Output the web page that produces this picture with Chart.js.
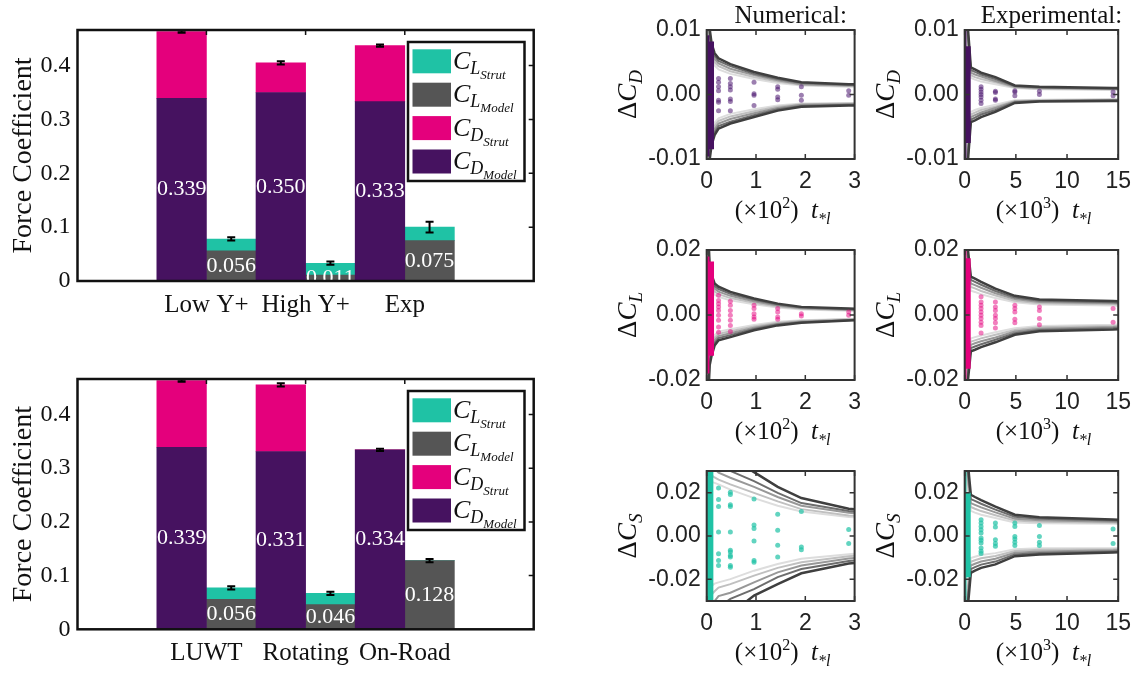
<!DOCTYPE html>
<html>
<head>
<meta charset="utf-8">
<script src="https://cdn.jsdelivr.net/npm/chart.js@4.4.1/dist/chart.umd.min.js"></script>
<style>
  body { margin: 0; background: #fff; width: 1140px; height: 673px; position: relative; overflow: hidden; }
  canvas { position: absolute; }
</style>
</head>
<body>
<canvas id="barTop" width="545" height="335" style="left:0;top:0"></canvas>
<canvas id="barBottom" width="545" height="328" style="left:0;top:345px"></canvas>
<canvas id="cdNum" width="270" height="225" style="left:600px;top:0"></canvas>
<canvas id="cdExp" width="270" height="225" style="left:870px;top:0"></canvas>
<canvas id="clNum" width="270" height="222" style="left:600px;top:225px"></canvas>
<canvas id="clExp" width="270" height="222" style="left:870px;top:225px"></canvas>
<canvas id="csNum" width="270" height="226" style="left:600px;top:447px"></canvas>
<canvas id="csExp" width="270" height="226" style="left:870px;top:447px"></canvas>
<script>
// ---- bar charts ----
const catsTop = ['Low Y+', 'High Y+', 'Exp'];
const cdModelTop = [0.339, 0.350, 0.333];
const cdStrutTop = [0.124, 0.055, 0.104];
const clModelTop = [0.056, 0.011, 0.075];
const clStrutTop = [0.022, 0.022, 0.025];
const cdErrTop = [0.002, 0.003, 0.002];
const clErrTop = [0.003, 0.003, 0.010];

const catsBottom = ['LUWT', 'Rotating', 'On-Road'];
const cdModelBottom = [0.339, 0.331, 0.334];
const cdStrutBottom = [0.124, 0.124, 0];
const clModelBottom = [0.056, 0.046, 0.128];
const clStrutBottom = [0.021, 0.021, 0];
const cdErrBottom = [0.002, 0.003, 0.002];
const clErrBottom = [0.003, 0.003, 0.003];

const barTicks = [0, 0.1, 0.2, 0.3, 0.4];
const legendSubs = ['L', 'L', 'D', 'D'];
const legendSubSubs = ['Strut', 'Model', 'Strut', 'Model'];

// ---- convergence panels ----
const panelTitles = ['Numerical:', 'Experimental:'];
const numX = [0.02, 0.06, 0.1, 0.16, 0.24, 0.48, 0.96, 1.44, 1.92, 2.88, 3.0];
const expX = [0.1, 0.32, 0.6, 1.0, 1.6, 3.0, 4.9, 7.3, 14.5, 15];
const numXTicks = [0, 1, 2, 3];
const expXTicks = [0, 5, 10, 15];

const cdNumUpper = [
  [0.022, 0.0102, 0.0079, 0.0064, 0.0056, 0.0047, 0.0035, 0.0026, 0.0019, 0.0016, 0.0016],
  [0.020, 0.0094, 0.0073, 0.0060, 0.0052, 0.0044, 0.0032, 0.0024, 0.0018, 0.0015, 0.0015],
  [0.018, 0.0086, 0.0067, 0.0055, 0.0048, 0.0040, 0.0030, 0.0022, 0.0016, 0.0014, 0.0014],
  [0.016, 0.0078, 0.0061, 0.0050, 0.0044, 0.0036, 0.0027, 0.0020, 0.0015, 0.0013, 0.0013],
  [0.014, 0.0070, 0.0055, 0.0045, 0.0039, 0.0032, 0.0024, 0.0018, 0.0014, 0.0012, 0.0012]
];
const cdNumLower = [
  [-0.022, -0.0101, -0.0078, -0.0063, -0.0053, -0.0045, -0.0035, -0.0025, -0.0019, -0.0017, -0.0017],
  [-0.020, -0.0093, -0.0072, -0.0059, -0.0049, -0.0042, -0.0032, -0.0023, -0.0018, -0.0016, -0.0016],
  [-0.018, -0.0085, -0.0066, -0.0054, -0.0045, -0.0038, -0.0029, -0.0021, -0.0016, -0.0015, -0.0015],
  [-0.016, -0.0077, -0.0060, -0.0049, -0.0041, -0.0034, -0.0026, -0.0019, -0.0015, -0.0014, -0.0014],
  [-0.014, -0.0069, -0.0054, -0.0044, -0.0037, -0.0030, -0.0023, -0.0017, -0.0014, -0.0013, -0.0013]
];
const cdNumBands = [[0, 0.06, -0.0096, 0.0092], [0, 0.15, -0.0085, 0.0082]];
const cdNumDots = [
  [0.24, [0.0025, 0.0019, 0.0012, 0.0006, -0.0009, -0.0012, -0.0025]],
  [0.48, [0.0025, 0.0017, 0.0012, 0.0007, -0.0007, -0.0011, -0.0025]],
  [0.96, [0.0019, 0.0001, -0.0001, -0.0017]],
  [1.44, [0.0012, 0.0008, -0.0004, -0.0008]],
  [1.92, [0.0012, -0.0001, -0.0009]],
  [2.88, [0.0006, -0.0001]]
];

const cdExpUpper = [
  [0.030, 0.0102, 0.0042, 0.0039, 0.0034, 0.0027, 0.0014, 0.0012, 0.0010, 0.0010],
  [0.027, 0.0094, 0.0038, 0.0035, 0.0031, 0.0024, 0.0013, 0.0011, 0.0009, 0.0009],
  [0.024, 0.0086, 0.0034, 0.0031, 0.0028, 0.0021, 0.0012, 0.0010, 0.0009, 0.0009],
  [0.021, 0.0078, 0.0030, 0.0027, 0.0024, 0.0019, 0.0011, 0.0009, 0.0008, 0.0008],
  [0.018, 0.0070, 0.0026, 0.0023, 0.0020, 0.0016, 0.0010, 0.0008, 0.0007, 0.0007]
];
const cdExpLower = [
  [-0.030, -0.0102, -0.0043, -0.0040, -0.0035, -0.0027, -0.0013, -0.0011, -0.0010, -0.0010],
  [-0.027, -0.0094, -0.0039, -0.0036, -0.0031, -0.0024, -0.0012, -0.0010, -0.0009, -0.0009],
  [-0.024, -0.0086, -0.0035, -0.0032, -0.0028, -0.0021, -0.0011, -0.0010, -0.0009, -0.0009],
  [-0.021, -0.0078, -0.0031, -0.0028, -0.0024, -0.0019, -0.0010, -0.0009, -0.0008, -0.0008],
  [-0.018, -0.0070, -0.0027, -0.0024, -0.0021, -0.0016, -0.0009, -0.0008, -0.0007, -0.0007]
];
const cdExpBands = [[0, 0.2, -0.01, 0.01], [0, 0.6, -0.0075, 0.0075]];
const cdExpDots = [
  [1.6, [0.0012, 0.0008, 0.0004, 0.0, -0.0004, -0.0009, -0.0014]],
  [3.0, [0.0005, 0.0003, -0.0007, -0.0009]],
  [4.9, [0.0006, 0.0004, -0.0002]],
  [7.3, [0.0005, 0.0]],
  [14.5, [0.0004, -0.0002]]
];

const clNumUpper = [
  [0.030, 0.0150, 0.0123, 0.0097, 0.0087, 0.0071, 0.0051, 0.0035, 0.0025, 0.0020, 0.0019],
  [0.027, 0.0136, 0.0112, 0.0089, 0.0080, 0.0065, 0.0047, 0.0032, 0.0023, 0.0018, 0.0017],
  [0.024, 0.0123, 0.0101, 0.0081, 0.0072, 0.0059, 0.0042, 0.0029, 0.0021, 0.0016, 0.0016],
  [0.021, 0.0110, 0.0090, 0.0072, 0.0064, 0.0052, 0.0038, 0.0026, 0.0019, 0.0015, 0.0014],
  [0.018, 0.0097, 0.0079, 0.0063, 0.0056, 0.0045, 0.0033, 0.0023, 0.0017, 0.0013, 0.0013]
];
const clNumLower = [
  [-0.030, -0.0155, -0.0125, -0.0094, -0.0078, -0.0068, -0.0047, -0.0032, -0.0024, -0.0017, -0.0016],
  [-0.027, -0.0140, -0.0114, -0.0086, -0.0071, -0.0062, -0.0043, -0.0029, -0.0022, -0.0016, -0.0015],
  [-0.024, -0.0126, -0.0102, -0.0078, -0.0065, -0.0056, -0.0039, -0.0027, -0.0020, -0.0015, -0.0014],
  [-0.021, -0.0112, -0.0091, -0.0070, -0.0058, -0.0050, -0.0035, -0.0024, -0.0018, -0.0013, -0.0013],
  [-0.018, -0.0098, -0.0080, -0.0062, -0.0051, -0.0044, -0.0031, -0.0021, -0.0016, -0.0012, -0.0012]
];
const clNumBands = [[0, 0.06, -0.018, 0.018], [0, 0.15, -0.0125, 0.0165]];
const clNumDots = [
  [0.24, [0.0061, 0.0045, 0.0035, 0.0025, 0.0014, -0.0001, -0.0016, -0.0037, -0.0053]],
  [0.48, [0.0042, 0.0030, 0.0014, -0.0001, -0.0016, -0.0032, -0.0051]],
  [0.96, [0.0030, 0.0020, 0.0004, -0.0006, -0.0013]],
  [1.44, [0.0020, 0.0009, -0.0006, -0.0013]],
  [1.92, [0.0004, -0.0003]],
  [2.88, [0.0009, -0.0001]]
];

const clExpUpper = [
  [0.050, 0.0200, 0.0118, 0.0112, 0.0102, 0.0081, 0.0059, 0.0048, 0.0043, 0.0042],
  [0.045, 0.0182, 0.0108, 0.0102, 0.0093, 0.0074, 0.0054, 0.0044, 0.0039, 0.0038],
  [0.040, 0.0164, 0.0097, 0.0092, 0.0084, 0.0067, 0.0049, 0.0040, 0.0036, 0.0035],
  [0.035, 0.0146, 0.0086, 0.0082, 0.0074, 0.0060, 0.0044, 0.0036, 0.0033, 0.0032],
  [0.030, 0.0128, 0.0075, 0.0071, 0.0064, 0.0052, 0.0039, 0.0032, 0.0029, 0.0028]
];
const clExpLower = [
  [-0.050, -0.0200, -0.0112, -0.0107, -0.0099, -0.0084, -0.0061, -0.0050, -0.0045, -0.0044],
  [-0.045, -0.0182, -0.0102, -0.0097, -0.0090, -0.0076, -0.0056, -0.0046, -0.0041, -0.0040],
  [-0.040, -0.0164, -0.0092, -0.0087, -0.0081, -0.0069, -0.0051, -0.0042, -0.0037, -0.0036],
  [-0.035, -0.0146, -0.0082, -0.0078, -0.0072, -0.0061, -0.0046, -0.0038, -0.0034, -0.0033],
  [-0.030, -0.0128, -0.0072, -0.0068, -0.0063, -0.0053, -0.0041, -0.0034, -0.0030, -0.0029]
];
const clExpBands = [[0, 0.2, -0.02, 0.02], [0, 0.6, -0.0165, 0.0175]];
const clExpDots = [
  [1.6, [0.0056, 0.0040, 0.0030, 0.0020, 0.0009, -0.0001, -0.0011, -0.0022, -0.0032, -0.0055]],
  [3.0, [0.0040, 0.0025, 0.0014, -0.0001, -0.0011, -0.0024, -0.0040]],
  [4.9, [0.0030, 0.0020, 0.0009, -0.0013, -0.0024]],
  [7.3, [0.0025, 0.0014, -0.0011, -0.0030]],
  [14.5, [0.0020, -0.0022]]
];

const csNumUpper = [
  [0.080, 0.065, 0.056, 0.048, 0.042, 0.036, 0.0295, 0.0227, 0.0175, 0.0126, 0.0124],
  [0.060, 0.050, 0.043, 0.038, 0.034, 0.030, 0.0253, 0.0199, 0.0152, 0.0115, 0.0113],
  [0.045, 0.038, 0.034, 0.031, 0.0292, 0.0269, 0.0227, 0.0180, 0.0140, 0.0107, 0.0105],
  [0.035, 0.030, 0.028, 0.027, 0.0260, 0.0238, 0.0199, 0.0160, 0.0124, 0.0095, 0.0093],
  [0.030, 0.027, 0.025, 0.0245, 0.0238, 0.0214, 0.0175, 0.0140, 0.0113, 0.0088, 0.0086]
];
const csNumLower = [
  [-0.080, -0.065, -0.056, -0.048, -0.042, -0.036, -0.0275, -0.0222, -0.0172, -0.0127, -0.0125],
  [-0.060, -0.050, -0.043, -0.037, -0.033, -0.029, -0.0245, -0.0190, -0.0152, -0.0115, -0.0113],
  [-0.045, -0.036, -0.032, -0.030, -0.0277, -0.0262, -0.0214, -0.0168, -0.0136, -0.0104, -0.0102],
  [-0.035, -0.029, -0.027, -0.0255, -0.0238, -0.0222, -0.0183, -0.0147, -0.0121, -0.0093, -0.0091],
  [-0.030, -0.025, -0.023, -0.022, -0.0214, -0.0199, -0.0160, -0.0129, -0.0105, -0.0084, -0.0082]
];
const csNumBands = [[0, 0.14, -0.03, 0.03]];
const csNumDots = [
  [0.24, [0.0222, 0.0168, 0.0136, 0.0019, -0.0082, -0.0113, -0.0136]],
  [0.48, [0.0202, 0.0191, 0.0144, 0.0136, 0.0019, -0.0066, -0.0074, -0.0090, -0.0097, -0.0136, -0.0144]],
  [0.96, [0.0171, 0.0051, 0.0035, -0.0023, -0.0113, -0.0121]],
  [1.44, [0.0100, 0.0027, -0.0043, -0.0097]],
  [1.92, [0.0113, -0.0051, -0.0063]],
  [2.88, [0.0030, -0.0035]]
];

const csExpUpper = [
  [0.060, 0.033, 0.0190, 0.0180, 0.0166, 0.0136, 0.0098, 0.0087, 0.0076, 0.0075],
  [0.054, 0.030, 0.0170, 0.0162, 0.0149, 0.0122, 0.0089, 0.0080, 0.0071, 0.0070],
  [0.048, 0.027, 0.0152, 0.0144, 0.0132, 0.0109, 0.0080, 0.0073, 0.0066, 0.0065],
  [0.042, 0.024, 0.0134, 0.0126, 0.0115, 0.0096, 0.0071, 0.0066, 0.0061, 0.0060],
  [0.036, 0.021, 0.0116, 0.0108, 0.0098, 0.0083, 0.0062, 0.0059, 0.0056, 0.0055]
];
const csExpLower = [
  [-0.060, -0.032, -0.0170, -0.0160, -0.0147, -0.0131, -0.0093, -0.0085, -0.0076, -0.0075],
  [-0.054, -0.029, -0.0153, -0.0144, -0.0132, -0.0118, -0.0085, -0.0078, -0.0071, -0.0070],
  [-0.048, -0.026, -0.0136, -0.0128, -0.0118, -0.0105, -0.0077, -0.0071, -0.0066, -0.0065],
  [-0.042, -0.023, -0.0119, -0.0112, -0.0103, -0.0092, -0.0069, -0.0064, -0.0061, -0.0060],
  [-0.036, -0.020, -0.0102, -0.0096, -0.0088, -0.0079, -0.0061, -0.0057, -0.0056, -0.0055]
];
const csExpBands = [[0, 0.2, -0.03, 0.03], [0, 0.6, -0.019, 0.020]];
const csExpDots = [
  [1.6, [0.0075, 0.0060, 0.0044, 0.0029, 0.0014, -0.0009, -0.0020, -0.0032, -0.0055, -0.0070, -0.0081]],
  [3.0, [0.0060, 0.0041, -0.0017, -0.0035, -0.0047]],
  [4.9, [0.0060, 0.0044, -0.0002, -0.0014, -0.0029, -0.0044]],
  [7.3, [0.0049, -0.0002, -0.0029, -0.0044]],
  [14.5, [0.0032, -0.0035]]
];

const PURPLE = '#461260';
const PINK = '#e4007c';
const TEAL = '#1fc2a5';
const GRAY = '#555555';
const lineShades = ['#3f3f3f', '#6d6d6d', '#989898', '#c0c0c0', '#dddddd'];
const SERIF = '"Liberation Serif", "Times New Roman", serif';
const SANS = '"Liberation Sans", Arial, sans-serif';

Chart.defaults.font.family = SERIF;

function fontOf(p) {
  return (p[2] ? 'italic ' : '') + p[1] + 'px ' + SERIF;
}

// parts: [text, size, italic, dy]
function drawParts(ctx, parts, x, y, opt = {}) {
  ctx.save();
  ctx.translate(x, y);
  if (opt.rot) ctx.rotate(opt.rot);
  let w = 0;
  parts.forEach(p => { ctx.font = fontOf(p); w += ctx.measureText(p[0]).width; });
  let cx = opt.left ? 0 : -w / 2;
  const base = parts[0][1] * 0.33;
  ctx.fillStyle = opt.color || '#111';
  ctx.textAlign = 'left';
  ctx.textBaseline = 'alphabetic';
  parts.forEach(p => {
    ctx.font = fontOf(p);
    ctx.fillText(p[0], cx, base + (p[3] || 0));
    cx += ctx.measureText(p[0]).width;
  });
  ctx.restore();
}

function frame(color, width, sides) {
  return {
    id: 'frame',
    afterDraw(chart) {
      const { ctx, chartArea: a } = chart;
      const xs = chart.scales.x, ys = chart.scales.y;
      const t = 5;
      ctx.save();
      ctx.strokeStyle = color;
      ctx.lineWidth = 1.5;
      ctx.beginPath();
      xs.ticks.forEach(tk => {
        const px = xs.getPixelForValue(tk.value);
        if (sides.top) { ctx.moveTo(px, a.top); ctx.lineTo(px, a.top + t); }
        if (sides.bottom) { ctx.moveTo(px, a.bottom); ctx.lineTo(px, a.bottom - t); }
      });
      ys.ticks.forEach(tk => {
        const py = ys.getPixelForValue(tk.value);
        if (sides.right) { ctx.moveTo(a.right, py); ctx.lineTo(a.right - t, py); }
        if (sides.left) { ctx.moveTo(a.left, py); ctx.lineTo(a.left + t, py); }
      });
      ctx.stroke();
      ctx.lineWidth = width;
      ctx.strokeRect(a.left, a.top, a.right - a.left, a.bottom - a.top);
      ctx.restore();
    }
  };
}

function barChart(id, cats, cdM, cdS, clM, clS, cdE, clE, padTop, xH) {
  const pts = arr => arr.map((v, i) => ({ x: i + 1, y: v }));
  const legendColors = [TEAL, GRAY, PINK, PURPLE];

  const extras = {
    id: 'barExtras',
    afterDatasetsDraw(chart) {
      const { ctx, chartArea: a } = chart;
      const y = chart.scales.y;
      const mDrag = chart.getDatasetMeta(0), mLift = chart.getDatasetMeta(2);
      ctx.save();
      // value labels on the model bars (white, cut by the axes)
      ctx.beginPath();
      ctx.rect(a.left, a.top, a.right - a.left, a.bottom - a.top);
      ctx.clip();
      ctx.fillStyle = '#fff';
      ctx.font = '22px ' + SERIF;
      ctx.textAlign = 'center';
      ctx.textBaseline = 'middle';
      [[mDrag, cdM], [mLift, clM]].forEach(([meta, vals]) => {
        meta.data.forEach((bar, i) => {
          ctx.fillText(vals[i].toFixed(3), bar.x, y.getPixelForValue(vals[i] / 2));
        });
      });
      // error bars
      ctx.strokeStyle = '#000';
      ctx.lineWidth = 2;
      const err = (meta, tops, errs) => {
        meta.data.forEach((bar, i) => {
          const x = bar.x;
          const y1 = y.getPixelForValue(tops[i] + errs[i]);
          const y2 = y.getPixelForValue(tops[i] - errs[i]);
          ctx.beginPath();
          ctx.moveTo(x, y1); ctx.lineTo(x, y2);
          ctx.moveTo(x - 4, y1); ctx.lineTo(x + 4, y1);
          ctx.moveTo(x - 4, y2); ctx.lineTo(x + 4, y2);
          ctx.stroke();
        });
      };
      err(mDrag, cdM.map((v, i) => v + cdS[i]), cdE);
      err(mLift, clM.map((v, i) => v + clS[i]), clE);
      ctx.restore();
    },
    afterDraw(chart) {
      const { ctx, chartArea: a } = chart;
      // axis title
      drawParts(ctx, [['Force Coefficient', 28, false, 0]], 21.4, (a.top + a.bottom) / 2, { rot: -Math.PI / 2 });
      // legend
      const bx = a.right - 125.7, by = a.top + 12, bw = 116.5, bh = 139;
      ctx.save();
      ctx.fillStyle = '#fff';
      ctx.fillRect(bx, by, bw, bh);
      legendColors.forEach((c, i) => {
        const sy = by + 7.3 + i * 33.4;
        ctx.fillStyle = c;
        ctx.fillRect(bx + 4.5, sy, 38.5, 24);
        drawParts(ctx, [['C', 26, true, 0], [legendSubs[i], 18, true, 5], [legendSubSubs[i], 13, true, 10]],
          bx + 45, sy + 11, { left: true });
      });
      ctx.strokeStyle = '#111';
      ctx.lineWidth = 2.5;
      ctx.strokeRect(bx, by, bw, bh);
      ctx.restore();
    }
  };

  new Chart(document.getElementById(id), {
    type: 'bar',
    data: {
      datasets: [
        { label: 'CD Model', data: pts(cdM), backgroundColor: PURPLE, stack: 'drag' },
        { label: 'CD Strut', data: pts(cdS), backgroundColor: PINK, stack: 'drag' },
        { label: 'CL Model', data: pts(clM), backgroundColor: GRAY, stack: 'lift' },
        { label: 'CL Strut', data: pts(clS), backgroundColor: TEAL, stack: 'lift' }
      ]
    },
    options: {
      responsive: false,
      animation: false,
      events: [],
      layout: { autoPadding: false, padding: { top: padTop, right: 11.3, left: 0, bottom: 0 } },
      datasets: { bar: { categoryPercentage: 1, barPercentage: 1, borderWidth: 0 } },
      plugins: { legend: { display: false }, tooltip: { enabled: false } },
      scales: {
        x: {
          type: 'linear', min: -0.3, max: 4.3, offset: false, stacked: true,
          grid: { display: false, drawTicks: false }, border: { display: false },
          afterBuildTicks: s => { s.ticks = cats.map((c, i) => ({ value: i + 1 })); },
          afterFit: s => { s.height = xH; },
          ticks: { callback: v => cats[Math.round(v) - 1], font: { size: 25 }, color: '#111', padding: 9, maxRotation: 0, autoSkip: false }
        },
        y: {
          min: 0, max: 0.466, stacked: true,
          grid: { display: false, drawTicks: false }, border: { display: false },
          afterBuildTicks: s => { s.ticks = barTicks.map(v => ({ value: v })); },
          afterFit: s => { s.width = 77.5; },
          ticks: { callback: v => (v === 0 ? '0' : v.toFixed(1)), font: { size: 24 }, color: '#111', padding: 7 }
        }
      }
    },
    plugins: [extras, frame('#111', 2.5, { top: true, right: true })]
  });
}

barChart('barTop', catsTop, cdModelTop, cdStrutTop, clModelTop, clStrutTop, cdErrTop, clErrTop, 30, 54);
barChart('barBottom', catsBottom, cdModelBottom, cdStrutBottom, clModelBottom, clStrutBottom, cdErrBottom, clErrBottom, 34, 43.7);

function panel(id, cfg) {
  const ds = [];
  const dotPts = [];
  cfg.dots.forEach(([x, ys]) => ys.forEach(y => dotPts.push({ x, y })));
  ds.push({ type: 'scatter', data: dotPts, backgroundColor: cfg.dotColor, pointRadius: 2.5, borderWidth: 0, order: 0 });
  cfg.bands.forEach(([x0, x1, lo, hi]) => ds.push({
    type: 'line', data: [{ x: x0, y: hi }, { x: x1, y: hi }], fill: { value: lo },
    backgroundColor: cfg.bandColor, borderWidth: 0, pointRadius: 0, order: 1
  }));
  [cfg.upper, cfg.lower].forEach(group => group.forEach((ys, i) => ds.push({
    type: 'line', data: cfg.xs.map((x, k) => ({ x, y: ys[k] })), borderColor: lineShades[i],
    borderWidth: i === 0 ? 2.5 : 2, pointRadius: 0, tension: 0, fill: false, order: 2 + i
  })));

  const texts = {
    id: 'panelTexts',
    afterDraw(chart) {
      const { ctx, chartArea: a } = chart;
      const cx = (a.left + a.right) / 2;
      if (cfg.title) drawParts(ctx, [[cfg.title, 25, false, 0]], cx + 10, 15);
      drawParts(ctx, [['\u0394', 27, false, 0], ['C', 27, true, 0], [cfg.sub, 19, true, 6]],
        a.left - 80, (a.top + a.bottom) / 2, { rot: -Math.PI / 2 });
      drawParts(ctx, [['(\u00d710', 25, false, 0], [cfg.exp, 16, false, -10], [')  ', 25, false, 0],
        ['t', 25, true, 0], ['*l', 16, true, 6]], cx + 2, a.bottom + 51);
    }
  };

  new Chart(document.getElementById(id), {
    type: 'scatter',
    data: { datasets: ds },
    options: {
      responsive: false,
      animation: false,
      events: [],
      layout: { autoPadding: false, padding: { top: cfg.padT, right: cfg.padR, left: 0, bottom: 0 } },
      plugins: { legend: { display: false }, tooltip: { enabled: false } },
      scales: {
        x: {
          type: 'linear', min: 0, max: cfg.xTicks[cfg.xTicks.length - 1],
          grid: { display: false, drawTicks: false }, border: { display: false },
          afterBuildTicks: s => { s.ticks = cfg.xTicks.map(v => ({ value: v })); },
          afterFit: s => { s.height = cfg.xH; },
          ticks: { callback: v => String(v), font: { family: SANS, size: 23 }, color: '#222', padding: 9, maxRotation: 0, autoSkip: false }
        },
        y: {
          min: -cfg.yMax, max: cfg.yMax,
          grid: { display: false, drawTicks: false }, border: { display: false },
          afterBuildTicks: s => { s.ticks = cfg.yTicks.map(v => ({ value: v })); },
          afterFit: s => { s.width = cfg.yW; },
          ticks: { callback: v => v.toFixed(2), font: { family: SANS, size: 23 }, color: '#222', padding: 6 }
        }
      }
    },
    plugins: [texts, frame('#333', 2, { top: true, bottom: true, left: true, right: true })]
  });
}

const leftCol = { yW: 106.7, padR: 7.5, xs: numX, xTicks: numXTicks, exp: '2' };
const rightCol = { yW: 94.7, padR: 19, xs: expX, xTicks: expXTicks, exp: '3' };
const row1 = { padT: 30, xH: 66, yMax: 0.01, yTicks: [-0.01, 0, 0.01], sub: 'D', bandColor: PURPLE, dotColor: 'rgba(75,21,112,0.55)' };
const row2 = { padT: 25, xH: 67, yMax: 0.02, yTicks: [-0.02, 0, 0.02], sub: 'L', bandColor: PINK, dotColor: 'rgba(229,0,126,0.5)' };
const row3 = { padT: 24, xH: 72, yMax: 0.03, yTicks: [-0.02, 0, 0.02], sub: 'S', bandColor: TEAL, dotColor: 'rgba(31,194,165,0.7)' };

panel('cdNum', { ...leftCol, ...row1, title: panelTitles[0], upper: cdNumUpper, lower: cdNumLower, bands: cdNumBands, dots: cdNumDots });
panel('cdExp', { ...rightCol, ...row1, title: panelTitles[1], upper: cdExpUpper, lower: cdExpLower, bands: cdExpBands, dots: cdExpDots });
panel('clNum', { ...leftCol, ...row2, upper: clNumUpper, lower: clNumLower, bands: clNumBands, dots: clNumDots });
panel('clExp', { ...rightCol, ...row2, upper: clExpUpper, lower: clExpLower, bands: clExpBands, dots: clExpDots });
panel('csNum', { ...leftCol, ...row3, upper: csNumUpper, lower: csNumLower, bands: csNumBands, dots: csNumDots });
panel('csExp', { ...rightCol, ...row3, upper: csExpUpper, lower: csExpLower, bands: csExpBands, dots: csExpDots });
</script>
</body>
</html>
